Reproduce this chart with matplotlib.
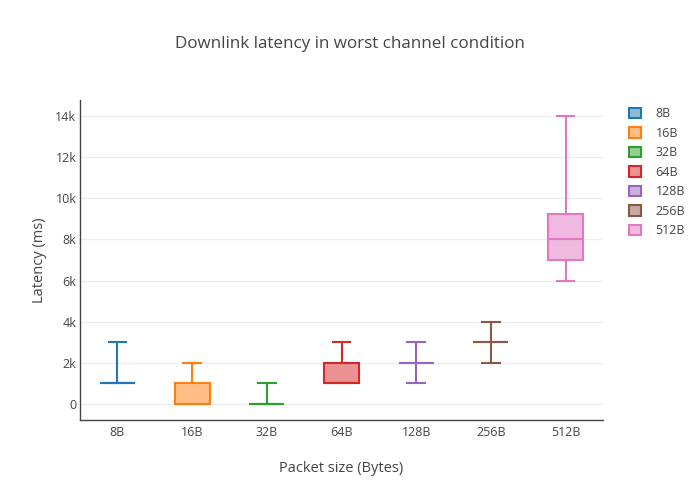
import matplotlib.pyplot as plt
from matplotlib.patches import Patch
from matplotlib.colors import to_rgba

plt.rcParams['font.family'] = ['Open Sans', 'DejaVu Sans']

sizes = ['8B', '16B', '32B', '64B', '128B', '256B', '512B']
whis_lo = [1000, 0, 0, 1000, 1000, 2000, 6000]
q1 = [1000, 0, 0, 1000, 2000, 3000, 7000]
med = [1000, 0, 0, 1000, 2000, 3000, 8000]
q3 = [1000, 1000, 0, 2000, 2000, 3000, 9250]
whis_hi = [3000, 2000, 1000, 3000, 3000, 4000, 14000]
colors = ['#1f77b4', '#ff7f0e', '#2ca02c', '#d62728', '#9467bd', '#8c564b', '#e377c2']

yticks = [0, 2000, 4000, 6000, 8000, 10000, 12000, 14000]
ytick_labels = ['0', '2k', '4k', '6k', '8k', '10k', '12k', '14k']

txt = '#444444'

fig = plt.figure(figsize=(7, 5), dpi=100)
ax = fig.add_axes([80 / 700, 1 - 420 / 500, 523 / 700, 320 / 500])

for i, name in enumerate(sizes):
    stats = [dict(whislo=whis_lo[i], q1=q1[i], med=med[i], q3=q3[i],
                  whishi=whis_hi[i], fliers=[], label=name)]
    c = colors[i]
    ax.bxp(stats, positions=[i], widths=0.47, patch_artist=True,
           showfliers=False,
           boxprops=dict(facecolor=to_rgba(c, 0.5), edgecolor=c, linewidth=1.5),
           medianprops=dict(color=c, linewidth=1.5),
           whiskerprops=dict(color=c, linewidth=1.5),
           capprops=dict(color=c, linewidth=1.5),
           capwidths=0.235)

ax.set_xlim(-0.5, 6.5)
ax.set_ylim(-780, 14780)
ax.set_xticks(range(len(sizes)))
ax.set_xticklabels(sizes)
ax.set_yticks(yticks)
ax.set_yticklabels(ytick_labels)
ax.tick_params(colors=txt, labelsize=9, length=0)
ax.tick_params(axis='y', pad=2.5)
ax.tick_params(axis='x', pad=4.5)
ax.yaxis.grid(True, color='#eeeeee', linewidth=1)
ax.set_axisbelow(True)
for s in ['top', 'right']:
    ax.spines[s].set_visible(False)
for s in ['left', 'bottom']:
    ax.spines[s].set_color(txt)
    ax.spines[s].set_linewidth(1)

ax.set_xlabel('Packet size (Bytes)', fontsize=10.5, color=txt, labelpad=16)
ax.set_ylabel('Latency (ms)', fontsize=10.5, color=txt, labelpad=6)
fig.suptitle('Downlink latency in worst channel condition', fontsize=12.25,
             color=txt, y=1 - 44 / 500, va='center')

handles = [Patch(facecolor=to_rgba(c, 0.5), edgecolor=c, linewidth=1.5, label=n)
           for c, n in zip(colors, sizes)]
fig.legend(handles=handles, loc='upper left', bbox_to_anchor=(618 / 700, 1 - 96 / 500),
           frameon=False, fontsize=9, labelcolor=txt, handlelength=0.9,
           handleheight=0.9, handletextpad=1.2, labelspacing=0.52)

fig.savefig('out.png', dpi=100)
